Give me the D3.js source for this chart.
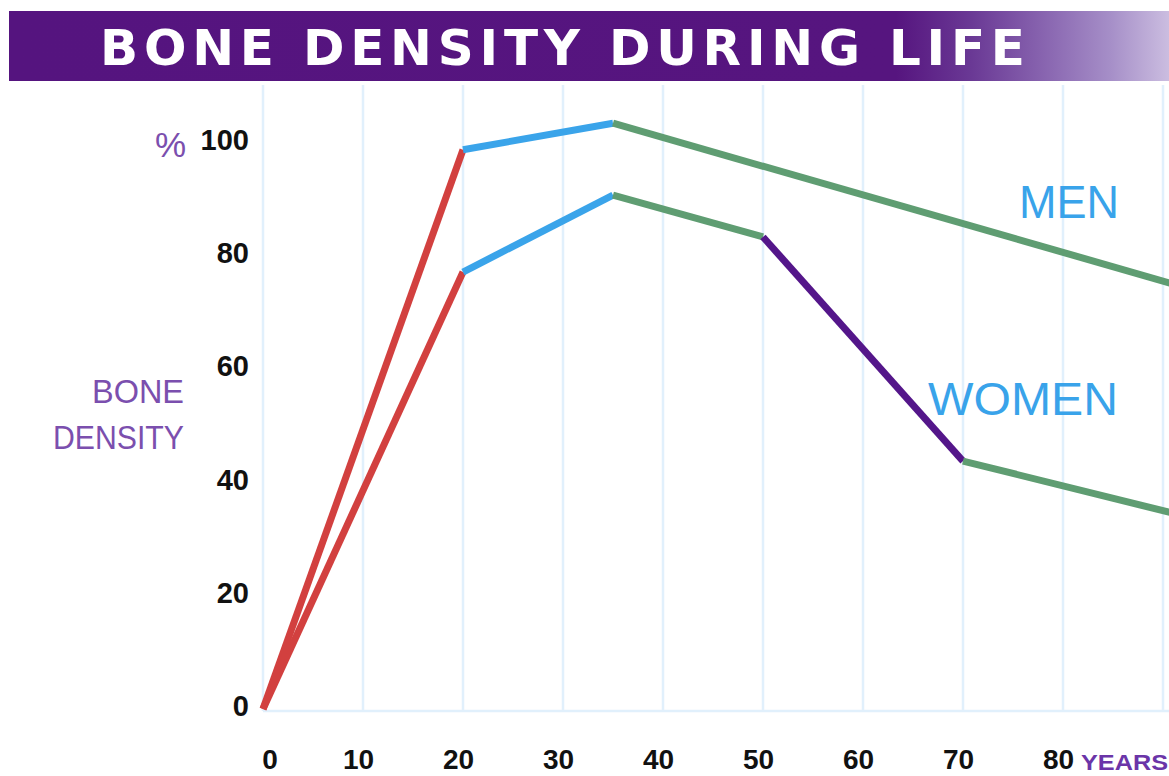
<!DOCTYPE html>
<html>
<head>
<meta charset="utf-8">
<script src="https://cdn.jsdelivr.net/npm/d3@7"></script>
<style>
html,body{margin:0;padding:0;background:#fff;}
svg{display:block;}
</style>
</head>
<body>
<svg id="chart" width="1169" height="776"></svg>
<script>
// ---- data ----
const title = "BONE DENSITY DURING LIFE";
const xTicks = [0, 10, 20, 30, 40, 50, 60, 70, 80];
const gridYears = [0, 10, 20, 30, 40, 50, 60, 70, 80, 90];
const yTicks = [0, 20, 40, 60, 80, 100];
const menAges = [0, 20, 35, 91];
const menValues = [0, 98.8, 103.5, 75.1];
const womenAges = [0, 20, 35, 50, 70, 91];
const womenValues = [0, 77.2, 90.8, 83.4, 43.8, 34.6];
// segment colouring by phase (index of start point)
const menPhases = ["growth", "peak", "decline"];
const womenPhases = ["growth", "peak", "decline", "menopause", "decline"];
const phaseColor = {growth: "#d2403f", peak: "#3aa4ea", decline: "#5f9d72", menopause: "#54168a"};

const svg = d3.select("#chart");
const x = d3.scaleLinear().domain([0, 90]).range([263, 1163]);
const y = d3.scaleLinear().domain([0, 100]).range([709, 143]);

// ---- banner ----
const defs = svg.append("defs");
const grad = defs.append("linearGradient").attr("id", "bannerGrad")
  .attr("x1", 0).attr("x2", 1).attr("y1", 0).attr("y2", 0);
[[0, "#55147f"], [0.765, "#56157f"], [0.83, "#6a3995"], [0.9, "#8c6ab3"], [0.95, "#a68fc8"], [1, "#cbbde0"]]
  .forEach(([o, c]) => grad.append("stop").attr("offset", o).attr("stop-color", c));
svg.append("rect").attr("x", 9).attr("y", 11).attr("width", 1160).attr("height", 70)
  .attr("fill", "url(#bannerGrad)");
svg.append("text").attr("x", 100).attr("y", 65)
  .attr("textLength", 925).attr("lengthAdjust", "spacing")
  .attr("font-family", "DejaVu Sans").attr("font-weight", "bold")
  .attr("font-size", 50).attr("fill", "#ffffff").text(title);

// ---- grid ----
const grid = svg.append("g");
grid.selectAll("line.v").data(gridYears).join("line")
  .attr("class", "v")
  .attr("x1", d => x(d)).attr("x2", d => x(d))
  .attr("y1", 85).attr("y2", 711)
  .attr("stroke", "#e1f0fc").attr("stroke-width", 2.5);
grid.append("line").attr("x1", x(0)).attr("x2", 1169)
  .attr("y1", 711).attr("y2", 711)
  .attr("stroke", "#e1f0fc").attr("stroke-width", 2.5);

// ---- axes ----
const yAxis = d3.axisLeft(y).tickValues(yTicks).tickSize(0).tickPadding(0);
const gy = svg.append("g").attr("transform", "translate(249,-4)").call(yAxis);
gy.select(".domain").remove();
gy.selectAll("text").attr("font-family", "Liberation Sans").attr("font-weight", "bold")
  .attr("font-size", 29).attr("fill", "#111").attr("dy", "0.36em");

const xAxis = d3.axisBottom(x).tickValues(xTicks).tickSize(0).tickPadding(0);
const gx = svg.append("g").attr("transform", "translate(-5,759)").call(xAxis);
gx.select(".domain").remove();
gx.selectAll("text").attr("font-family", "Liberation Sans").attr("font-weight", "bold")
  .attr("font-size", 28).attr("fill", "#111").attr("dy", "0.36em");
gx.selectAll(".tick").filter(d => d === 0).attr("transform", `translate(${x(0) + 12},0)`);

// axis titles
svg.append("text").attr("x", 186).attr("y", 157).attr("text-anchor", "end")
  .attr("font-family", "Liberation Sans").attr("font-size", 35).attr("fill", "#7b4fae").text("%");
svg.append("text").attr("x", 184).attr("y", 403).attr("text-anchor", "end")
  .attr("font-family", "Liberation Sans").attr("font-size", 33)
  .attr("textLength", 92).attr("lengthAdjust", "spacingAndGlyphs")
  .attr("fill", "#7b4fae").text("BONE");
svg.append("text").attr("x", 184).attr("y", 449).attr("text-anchor", "end")
  .attr("font-family", "Liberation Sans").attr("font-size", 33)
  .attr("textLength", 131).attr("lengthAdjust", "spacingAndGlyphs")
  .attr("fill", "#7b4fae").text("DENSITY");
svg.append("text").attr("x", 1168).attr("y", 770).attr("text-anchor", "end")
  .attr("font-family", "Liberation Sans").attr("font-weight", "bold").attr("font-size", 22)
  .attr("textLength", 87).attr("lengthAdjust", "spacingAndGlyphs")
  .attr("fill", "#6b35a8").text("YEARS");

// ---- lines ----
function drawSeries(ages, values, phases) {
  const segs = phases.map((p, i) => ({
    phase: p,
    pts: [[ages[i], values[i]], [ages[i + 1], values[i + 1]]]
  }));
  const line = d3.line().x(d => x(d[0])).y(d => y(d[1]));
  svg.append("g").selectAll("path").data(segs).join("path")
    .attr("d", d => line(d.pts))
    .attr("fill", "none")
    .attr("stroke", d => phaseColor[d.phase])
    .attr("stroke-width", 7)
    .attr("stroke-linecap", "butt");
}
drawSeries(womenAges, womenValues, womenPhases);
drawSeries(menAges, menValues, menPhases);

// series labels
svg.append("text").attr("x", 1019).attr("y", 218)
  .attr("font-family", "Liberation Sans").attr("font-size", 46)
  .attr("textLength", 100).attr("lengthAdjust", "spacingAndGlyphs")
  .attr("fill", "#39a3ea").text("MEN");
svg.append("text").attr("x", 928).attr("y", 415)
  .attr("font-family", "Liberation Sans").attr("font-size", 46)
  .attr("textLength", 190).attr("lengthAdjust", "spacingAndGlyphs")
  .attr("fill", "#39a3ea").text("WOMEN");
</script>
</body>
</html>
